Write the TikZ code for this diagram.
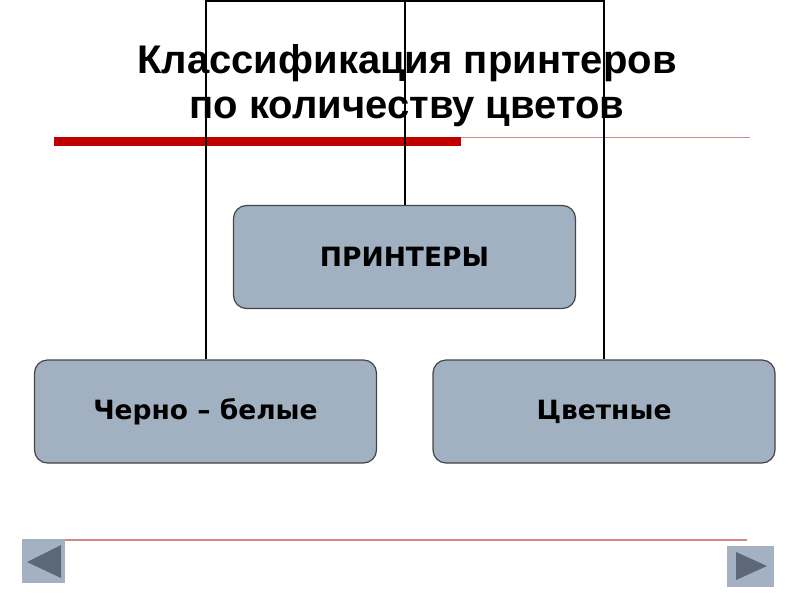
\documentclass[tikz,border=0pt]{standalone}
\usepackage{fontspec}
\setmainfont{Liberation Sans}
\newfontfamily\boxfont{DejaVu Sans}
\definecolor{boxfill}{HTML}{A2B1C1}
\definecolor{boxline}{HTML}{454545}
\definecolor{barred}{HTML}{C00000}
\definecolor{thinred}{HTML}{D48888}
\definecolor{btnfill}{HTML}{A3B1C2}
\definecolor{btnarrow}{HTML}{5C6878}
\begin{document}
\begin{tikzpicture}[x=1pt,y=-1pt,
  catbox/.style={draw=boxline,line width=1.2pt,fill=boxfill,rounded corners=13pt,
    minimum width=342pt,minimum height=103pt,inner sep=0pt,
    font=\boxfont\bfseries\fontsize{26.5}{30}\selectfont},
  link/.style={draw=black,line width=2pt},
  navbtn/.style={fill=btnfill,draw=none},
  navtri/.style={fill=btnarrow,draw=none}]
\useasboundingbox (0,0) rectangle (800,600);
% title
\node[align=center,font=\bfseries\fontsize{40}{45}\selectfont,anchor=base] (title) at (407,118)
  {Классификация принтеров\\по количеству цветов};
% rules
\draw[thinred,line width=1pt] (460,137) -- (750,137);
\fill[barred] (54,137) rectangle (461,146);
\draw[thinred,line width=2pt] (55,540) -- (747,540);
% boxes
\node[catbox] (printers) at (404.5,257) {ПРИНТЕРЫ};
\node[catbox] (bw) at (205.5,411.5) {Черно – белые};
\node[catbox] (color) at (604,411.5) {Цветные};
% connectors
\coordinate (top) at (404.5,1);
\draw[link] (bw.north) |- (top) -| (color.north);
\draw[link] (printers.north) -- (top);
% navigation buttons
\fill[navbtn] (22,539) rectangle (65,583);
\fill[navtri] (27,562) -- (61,545) -- (61,578) -- cycle;
\fill[navbtn] (727,546) rectangle (774,587);
\fill[navtri] (736,552) -- (767,566) -- (736,580) -- cycle;
\end{tikzpicture}
\end{document}
